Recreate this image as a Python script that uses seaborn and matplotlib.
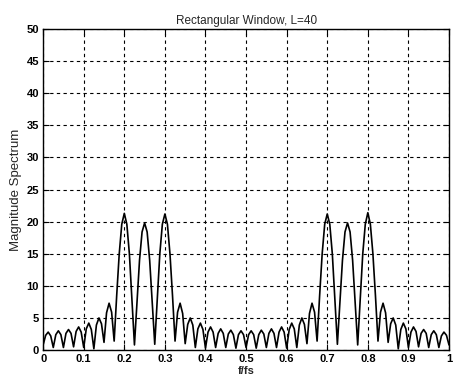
import numpy as np
import pandas
import seaborn
import matplotlib
matplotlib.use('Agg')
import matplotlib.pyplot as plt

# magnitude, every 0.00625 in f/fs (4 points per 1/40 bin)
# f = 0 .. 0.175 : side lobes left of the first group
mag_low = [0.8, 2.3, 2.8, 2.2,
           0.4, 2.4, 3.0, 2.4,
           0.4, 2.6, 3.2, 2.6,
           0.5, 2.9, 3.6, 2.8,
           0.4, 3.3, 4.2, 3.2,
           0.2, 3.9, 5.0, 4.1,
           1.2, 5.8, 7.3, 5.9]
# f = 0.175 .. 0.325 : main lobes at 0.2, 0.25, 0.3
mag_group1 = [1.4, 8.5, 15.0, 19.6, 21.3, 19.6, 15.0, 8.0,
              0.8, 7.5, 14.0, 18.4, 19.8, 18.4, 14.0, 7.5,
              0.9, 8.0, 15.0, 19.6, 21.2, 19.6, 15.0, 8.5]
# f = 0.325 .. 0.675 : side lobes in the middle
mag_mid = [1.4, 5.9, 7.3, 5.7,
           1.0, 4.0, 5.0, 3.9,
           0.4, 3.3, 4.2, 3.2,
           0.3, 2.8, 3.6, 2.8,
           0.4, 2.6, 3.3, 2.6,
           0.4, 2.5, 3.1, 2.4,
           0.3, 2.4, 3.0, 2.4,
           0.4, 2.4, 3.0, 2.4,
           0.3, 2.4, 3.1, 2.5,
           0.4, 2.6, 3.3, 2.6,
           0.4, 2.8, 3.6, 2.8,
           0.3, 3.2, 4.2, 3.3,
           0.4, 3.9, 5.0, 4.0,
           1.0, 5.7, 7.3, 5.9]
# f = 0.675 .. 0.825 : main lobes at 0.7, 0.75, 0.8
mag_group2 = [1.4, 8.5, 15.0, 19.6, 21.2, 19.6, 15.0, 8.0,
              0.9, 7.5, 14.0, 18.4, 19.8, 18.4, 14.0, 7.5,
              0.8, 8.0, 15.0, 19.6, 21.4, 19.6, 15.0, 8.5]
# f = 0.825 .. 1 : side lobes on the right
mag_high = [1.4, 5.9, 7.3, 5.8,
            1.2, 4.1, 5.0, 3.9,
            0.2, 3.2, 4.2, 3.3,
            0.4, 2.8, 3.6, 2.9,
            0.5, 2.6, 3.2, 2.6,
            0.4, 2.4, 3.0, 2.4,
            0.4, 2.2, 2.8, 2.3,
            0.8]

x_ticks = [0, 0.1, 0.2, 0.3, 0.4, 0.5, 0.6, 0.7, 0.8, 0.9, 1]
x_labels = ['0', '0.1', '0.2', '0.3', '0.4', '0.5', '0.6', '0.7', '0.8', '0.9', '1']
y_ticks = [0, 5, 10, 15, 20, 25, 30, 35, 40, 45, 50]

mag = mag_low + mag_group1 + mag_mid + mag_group2 + mag_high
freq = np.linspace(0, 1, len(mag))
df = pandas.DataFrame({'f': freq, 'mag': mag})

seaborn.set_style('ticks')
plt.rcParams['font.family'] = ['Liberation Sans', 'DejaVu Sans']

fig = plt.figure(figsize=(4.54, 3.83), dpi=100)
ax = fig.add_axes([0.095, 0.086, 0.894, 0.838])

seaborn.lineplot(data=df, x='f', y='mag', color='black', linewidth=1.2, ax=ax)

ax.set_xlim(0, 1)
ax.set_ylim(0, 50)
ax.set_xticks(x_ticks)
ax.set_xticklabels(x_labels)
ax.set_yticks(y_ticks)
ax.grid(True, color='black', linestyle=(0, (3, 3)), linewidth=0.8)
ax.tick_params(direction='in', top=True, right=True, length=4, width=0.8,
               labelsize=8, pad=3, colors='black')
for lbl in ax.get_xticklabels() + ax.get_yticklabels():
    lbl.set_fontweight('bold')
for sp in ax.spines.values():
    sp.set_color('black')
    sp.set_linewidth(1.0)

ax.set_title('Rectangular Window, L=40', fontsize=8.5, pad=4)
ax.set_xlabel('f/fs', fontsize=8, fontweight='bold', labelpad=1)
ax.set_ylabel('Magnitude Spectrum', fontsize=9.5, labelpad=3)

fig.savefig('out.png', dpi=100, facecolor='white')
